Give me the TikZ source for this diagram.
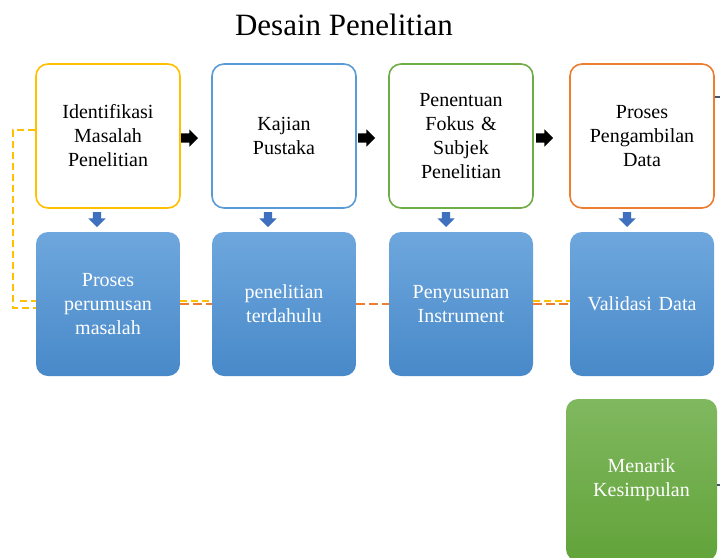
\documentclass[tikz,border=0pt]{standalone}
\usepackage{fontspec}
\setmainfont{Liberation Serif}
\usetikzlibrary{shapes.arrows,calc}

\definecolor{lineyellow}{HTML}{FFC000}
\definecolor{lineblue}{HTML}{5B9BD5}
\definecolor{linegreen}{HTML}{70AD47}
\definecolor{lineorange}{HTML}{ED7D31}
\definecolor{bluetop}{HTML}{6EA7DD}
\definecolor{bluebot}{HTML}{4889C9}
\definecolor{greentop}{HTML}{80B85F}
\definecolor{greenbot}{HTML}{62A33A}
\definecolor{arrowblue}{HTML}{3F6FBF}
\definecolor{stubgray}{HTML}{44546A}

\tikzset{
  stepbox/.style={draw=#1, line width=1.6pt, rounded corners=12pt, fill=white,
    minimum width=144pt, minimum height=144pt, text width=130pt, align=center,
    font=\fontsize{20}{24}\selectfont},
  bluebox/.style={rounded corners=12pt, top color=bluetop, bottom color=bluebot,
    minimum width=144pt, minimum height=144pt, text width=130pt, align=center,
    text=white, font=\fontsize{20}{24}\selectfont},
  greenbox/.style={bluebox, top color=greentop, bottom color=greenbot,
    minimum width=151pt, minimum height=162pt},
  nextarrow/.style={single arrow, fill=black, inner sep=4.5pt, minimum height=17pt,
    single arrow head extend=4pt, anchor=tail},
  downarrow/.style={single arrow, fill=arrowblue, inner sep=4pt, minimum height=15pt,
    single arrow head extend=4.5pt, shape border rotate=270, anchor=tail},
  yellowdash/.style={draw=lineyellow, line width=1.8pt, dash pattern=on 7pt off 4pt},
  orangedash/.style={draw=lineorange, line width=1.8pt, dash pattern=on 9pt off 4pt},
  stubline/.style={draw=stubgray, line width=1.8pt}
}

\begin{document}
\begin{tikzpicture}[x=1pt,y=-1pt]
\useasboundingbox[fill=white] (0,0) rectangle (720,557);
% title
\node[font=\fontsize{31}{36}\selectfont] (title) at (344,25) {Desain Penelitian};
% upper row
\node[stepbox=lineyellow] (idm) at (108,136) {Identifikasi\\Masalah\\Penelitian};
\node[stepbox=lineblue] (kp) at (284,136) {Kajian\\Pustaka};
\node[stepbox=linegreen] (pfs) at (461,136) {Penentuan\\Fokus \&\\Subjek\\Penelitian};
\node[stepbox=lineorange] (ppd) at (642,136) {Proses\\Pengambilan\\Data};
% lower row
\node[bluebox] (ppm) at (108,304) {Proses\\perumusan\\masalah};
\node[bluebox] (pt) at (284,304) {penelitian\\terdahulu};
\node[bluebox] (pi) at (461,304) {Penyusunan\\Instrument};
\node[bluebox] (vd) at (642,304) {Validasi Data};
\node[greenbox] (mk) at (641.5,480) {Menarik\\Kesimpulan};
% arrows between steps
\node[nextarrow] (a1) at ($(idm.east)+(0,2)$) {};
\node[nextarrow] (a2) at ($(kp.east)+(1,2)$) {};
\node[nextarrow] (a3) at ($(pfs.east)+(2,2)$) {};
% arrows down
\node[downarrow] (d1) at ($(idm.south)+(-11,3)$) {};
\node[downarrow] (d2) at ($(kp.south)+(-16,3)$) {};
\node[downarrow] (d3) at ($(pfs.south)+(-15,3)$) {};
\node[downarrow] (d4) at ($(ppd.south)+(-15,3)$) {};
% dashed links
\draw[yellowdash] ($(idm.west)+(0,-6)$) -- ++(-22,0) |- ($(ppm.west)+(0,4)$);
\draw[yellowdash] ($(ppm.west)+(-16,-3)$) -- ($(ppm.west)+(0,-3)$);
\draw[yellowdash] ($(ppm.east)+(0,-3)$) -- ($(pt.west)+(0,-3)$);
\draw[orangedash] ($(ppm.east)+(0,0)$) -- ($(pt.west)+(0,0)$);
\draw[orangedash] ($(pt.east)+(0,0)$) -- ($(pi.west)+(0,0)$);
\draw[yellowdash] ($(pi.east)+(0,-3)$) -- ($(vd.west)+(0,-3)$);
\draw[orangedash] ($(pi.east)+(0,0)$) -- ($(vd.west)+(0,0)$);
% stubs to the right
\coordinate (edge1) at (720,97);
\coordinate (edge2) at (720,485);
\draw[stubline] (ppd.east |- edge1) -- (edge1);
\draw[stubline] (mk.east |- edge2) -- (edge2);
\end{tikzpicture}
\end{document}
